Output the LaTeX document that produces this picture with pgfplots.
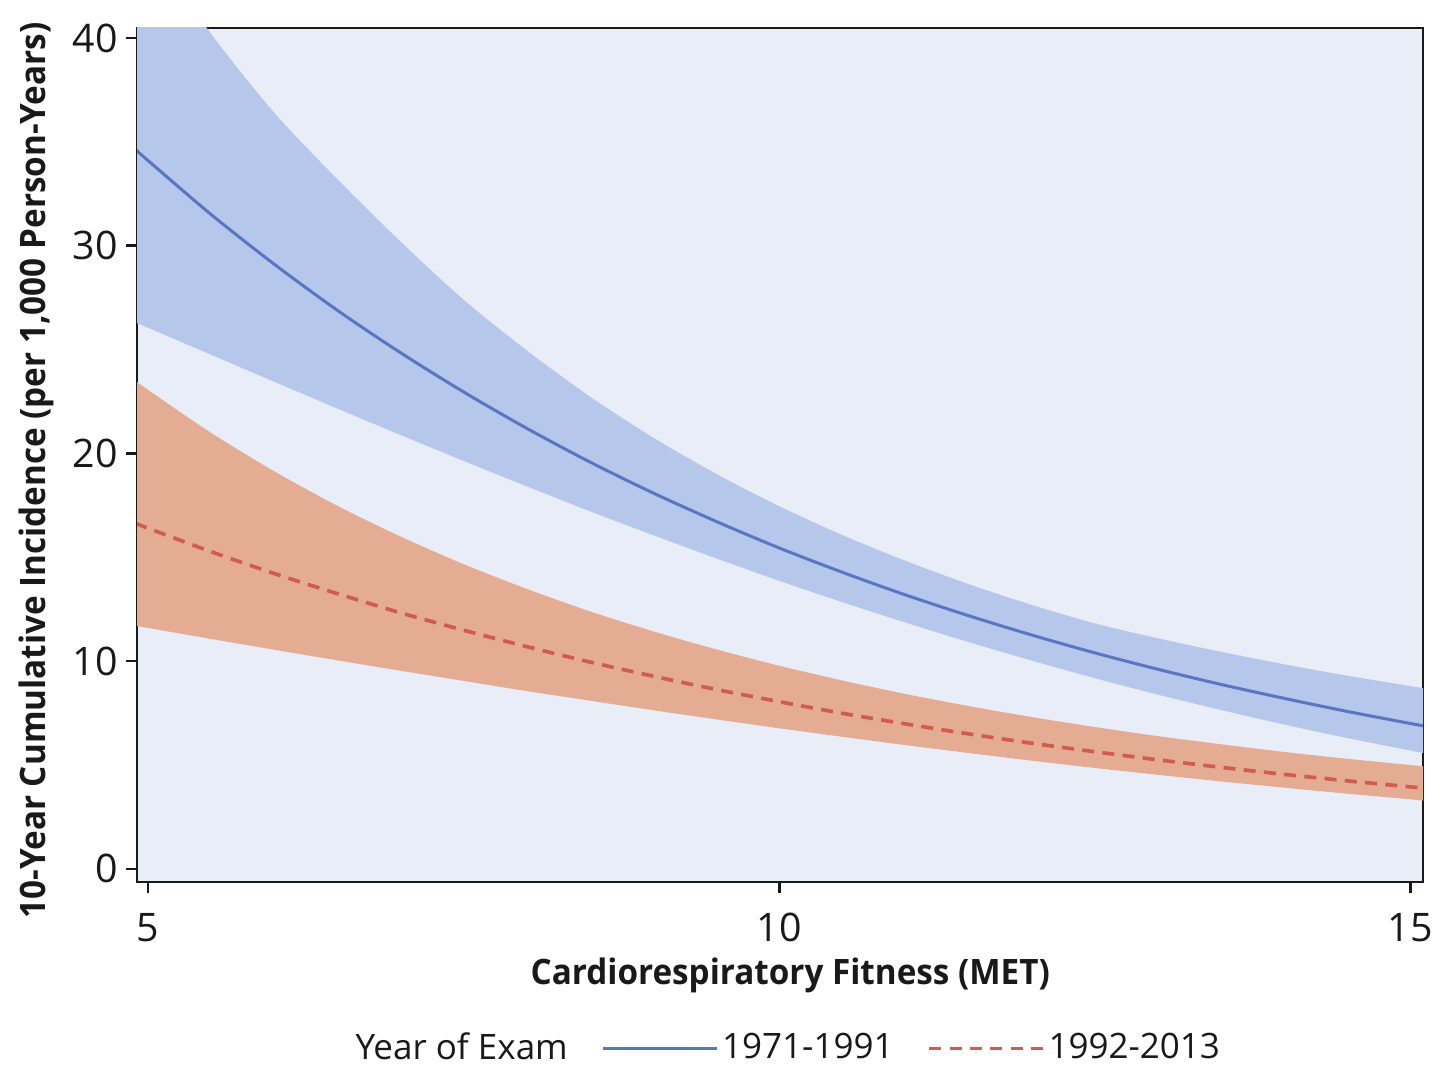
\documentclass[border=0pt]{standalone}
\usepackage{fontspec}
\setmainfont{Open Sans}
\newfontfamily\labfont[FakeStretch=0.95]{Open Sans}
\usepackage{pgfplots}
\pgfplotsset{compat=1.18}
\usepackage{pgfplotstable}
\usepgfplotslibrary{fillbetween}

\definecolor{bgc}{RGB}{233,237,247}
\definecolor{bandblue}{RGB}{181,199,235}
\definecolor{bandorange}{RGB}{228,172,146}
\definecolor{lineblue}{RGB}{88,118,194}
\definecolor{lineorange}{RGB}{208,92,80}
\definecolor{txt}{RGB}{25,25,25}

% x = fitness (MET); bU/bL/bLo = 1971-1991 upper, estimate, lower;
% oU/oL/oLo = 1992-2013 upper, estimate, lower
\pgfplotstableread{
x     bU     bL     bLo    oU     oL     oLo
4.9   45.50  34.64  26.30  23.50  16.64  11.70
5.0   44.60  34.10  26.05  23.06  16.40  11.60
5.5   40.20  31.50  24.75  20.99  15.27  11.07
6.0   36.40  29.11  23.45  19.14  14.22  10.55
6.5   33.20  26.89  22.16  17.48  13.25  10.04
7.0   30.20  24.85  20.89  16.00  12.33   9.54
7.5   27.40  22.96  19.64  14.67  11.49   9.05
8.0   24.96  21.21  18.42  13.48  10.70   8.56
8.5   22.74  19.59  17.22  12.40   9.96   8.10
9.0   20.77  18.10  16.07  11.44   9.28   7.64
9.5   19.02  16.73  14.95  10.57   8.64   7.20
10.0  17.46  15.45  13.87   9.78   8.05   6.77
10.5  16.07  14.28  12.84   9.07   7.49   6.36
11.0  14.83  13.19  11.86   8.42   6.98   5.96
11.5  13.71  12.19  10.92   7.84   6.50   5.58
12.0  12.71  11.26  10.03   7.31   6.05   5.21
12.5  11.82  10.40   9.18   6.83   5.64   4.86
13.0  11.10   9.61   8.39   6.39   5.25   4.53
13.5  10.45   8.88   7.65   6.00   4.89   4.21
14.0   9.85   8.21   6.95   5.63   4.55   3.91
14.5   9.30   7.58   6.30   5.30   4.24   3.62
15.0   8.80   7.00   5.70   5.00   3.95   3.35
15.1   8.70   6.89   5.58   4.94   3.89   3.29
}\cifdata

\begin{document}
\begin{tikzpicture}
\begin{axis}[
  scale only axis,
  width=385.8pt, height=256.2pt,
  xmin=4.913, xmax=15.10,
  ymin=-0.63, ymax=40.48,
  clip bounding box=upper bound,
  xtick={5,10,15},
  ytick={0,10,20,30,40},
  tick align=outside,
  major tick length=3.4pt,
  tick style={line width=0.8pt, color=txt},
  xtick pos=bottom, ytick pos=left,
  axis line style={line width=0.8pt, color=txt},
  axis background/.style={fill=bgc},
  /pgf/number format/assume math mode=true,
  yticklabel style={font=\fontsize{11.8}{13}\selectfont, text=txt, xshift=1.2pt},
  xticklabel style={font=\fontsize{11.8}{13}\selectfont, text=txt, yshift=-2.5pt},
  xlabel={\labfont\bfseries Cardiorespiratory Fitness (MET)},
  ylabel={\labfont\bfseries 10-Year Cumulative Incidence (per 1,000 Person-Years)},
  xlabel style={at={(axis description cs:0.508,-0.109)}, anchor=center,
                font=\fontsize{10.5}{12}\selectfont, text=txt},
  ylabel style={at={(axis description cs:-0.078,0.482)}, anchor=center,
                font=\fontsize{10.5}{12}\selectfont, text=txt},
  legend columns=-1,
  legend style={draw=none, fill=none, at={(axis description cs:0.506,-0.195)},
                anchor=center, font=\fontsize{10.5}{12}\selectfont, text=txt,
                nodes={inner xsep=1.2pt},
                /tikz/every even column/.append style={column sep=9pt}},
  legend image code/.code={\draw[#1] (0pt,0pt) -- (34pt,0pt);},
]
\addlegendimage{empty legend}
\addlegendentry{Year of Exam}

% confidence bands
\addplot[smooth, name path=bu, draw=none, forget plot] table[x=x, y=bU]{\cifdata};
\addplot[smooth, name path=blo, draw=none, forget plot] table[x=x, y=bLo]{\cifdata};
\addplot[fill=bandblue, draw=none, forget plot] fill between[of=bu and blo];

\addplot[smooth, name path=ou, draw=none, forget plot] table[x=x, y=oU]{\cifdata};
\addplot[smooth, name path=olo, draw=none, forget plot] table[x=x, y=oLo]{\cifdata};
\addplot[fill=bandorange, draw=none, forget plot] fill between[of=ou and olo];

% estimates
\addplot[smooth, lineblue, line width=0.9pt] table[x=x, y=bL]{\cifdata};
\addlegendentry{1971-1991}
\addplot[smooth, lineorange, line width=1.1pt, dash pattern=on 3.6pt off 2.5pt] table[x=x, y=oL]{\cifdata};
\addlegendentry{1992-2013}
\end{axis}
% fixed page extent around the axis box
\pgfresetboundingbox
\path[use as bounding box] ([shift={(-41.1pt,-55.2pt)}]current axis.south west)
      rectangle ([shift={(2.7pt,8.4pt)}]current axis.north east);
\end{tikzpicture}
\end{document}
